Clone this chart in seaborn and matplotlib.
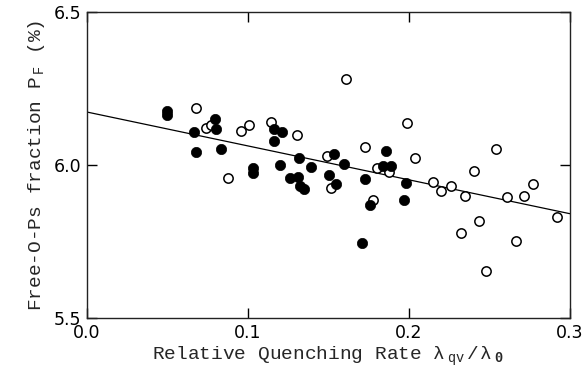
import numpy as np
import matplotlib
matplotlib.use('Agg')
import matplotlib.pyplot as plt
import seaborn as sns

# filled circles
x_filled = [0.050, 0.050, 0.0667, 0.068, 0.0795, 0.0805, 0.0837, 0.103, 0.103,
            0.1163, 0.1215, 0.116, 0.1203, 0.1319, 0.139, 0.1265, 0.1313, 0.1323,
            0.1348, 0.1505, 0.1536, 0.155, 0.1598, 0.1731, 0.1857, 0.184, 0.189,
            0.1758, 0.1712, 0.198, 0.1969]
y_filled = [6.163, 6.175, 6.107, 6.042, 6.149, 6.118, 6.052, 5.989, 5.973,
            6.118, 6.107, 6.079, 6.000, 6.022, 5.992, 5.958, 5.962, 5.931,
            5.920, 5.967, 6.036, 5.938, 6.002, 5.955, 6.047, 5.997, 5.997,
            5.869, 5.746, 5.940, 5.886]

# open circles
x_open = [0.068, 0.074, 0.077, 0.0878, 0.096, 0.1008, 0.1143, 0.1306, 0.1613,
          0.1495, 0.152, 0.1731, 0.1803, 0.1878, 0.178, 0.1986, 0.2037, 0.2151,
          0.2203, 0.2265, 0.235, 0.2327, 0.2406, 0.2435, 0.2478, 0.2544, 0.2611,
          0.2667, 0.2714, 0.2772, 0.2921]
y_open = [6.185, 6.120, 6.131, 5.957, 6.111, 6.131, 6.140, 6.097, 6.281,
          6.030, 5.924, 6.058, 5.989, 5.978, 5.886, 6.136, 6.022, 5.943,
          5.915, 5.931, 5.900, 5.779, 5.980, 5.817, 5.654, 6.052, 5.896,
          5.753, 5.899, 5.938, 5.831]

# fitted line end points
line_x = [0.0, 0.3]
line_y = [6.173, 5.841]

sns.set_style('ticks')
plt.rcParams['font.family'] = ['DejaVu Sans']
plt.rcParams['mathtext.fontset'] = 'custom'
plt.rcParams['mathtext.rm'] = 'Liberation Mono'
plt.rcParams['mathtext.it'] = 'Liberation Mono'
plt.rcParams['mathtext.bf'] = 'Liberation Mono:bold'

fig = plt.figure(figsize=(5.82, 3.81), dpi=100)
ax = fig.add_axes([0.149, 0.165, 0.830, 0.804])

sns.lineplot(x=line_x, y=line_y, ax=ax, color='black', linewidth=0.9)
sns.scatterplot(x=x_open, y=y_open, ax=ax, s=45, facecolor='white',
                edgecolor='black', linewidth=1.1, zorder=3)
sns.scatterplot(x=x_filled, y=y_filled, ax=ax, s=55, color='black',
                edgecolor='black', linewidth=0.5, zorder=4)

ax.set_xlim(0.0, 0.3)
ax.set_ylim(5.5, 6.5)
ax.set_xticks([0.0, 0.1, 0.2, 0.3])
ax.set_xticklabels(['0.0', '0.1', '0.2', '0.3'])
ax.set_yticks([5.5, 6.0, 6.5])
ax.set_yticklabels(['5.5', '6.0', '6.5'])
ax.tick_params(direction='in', length=7, width=1, top=True, right=True,
               labelsize=12.5, colors='black', pad=4)
for sp in ax.spines.values():
    sp.set_visible(True)
    sp.set_linewidth(1.0)
    sp.set_color('#222222')

ax.set_xlabel(r'Relative Quenching Rate $\lambda_{\ \mathrm{qv}}\,/\,\lambda_{\ \mathbf{0}}$',
              family='Liberation Mono', fontsize=14, labelpad=2)
ax.set_ylabel(r'Free-O-Ps fraction P$_{\ \mathrm{F}}$ (%)',
              family='Liberation Mono', fontsize=14, labelpad=5)

fig.savefig('out.png', dpi=100)
